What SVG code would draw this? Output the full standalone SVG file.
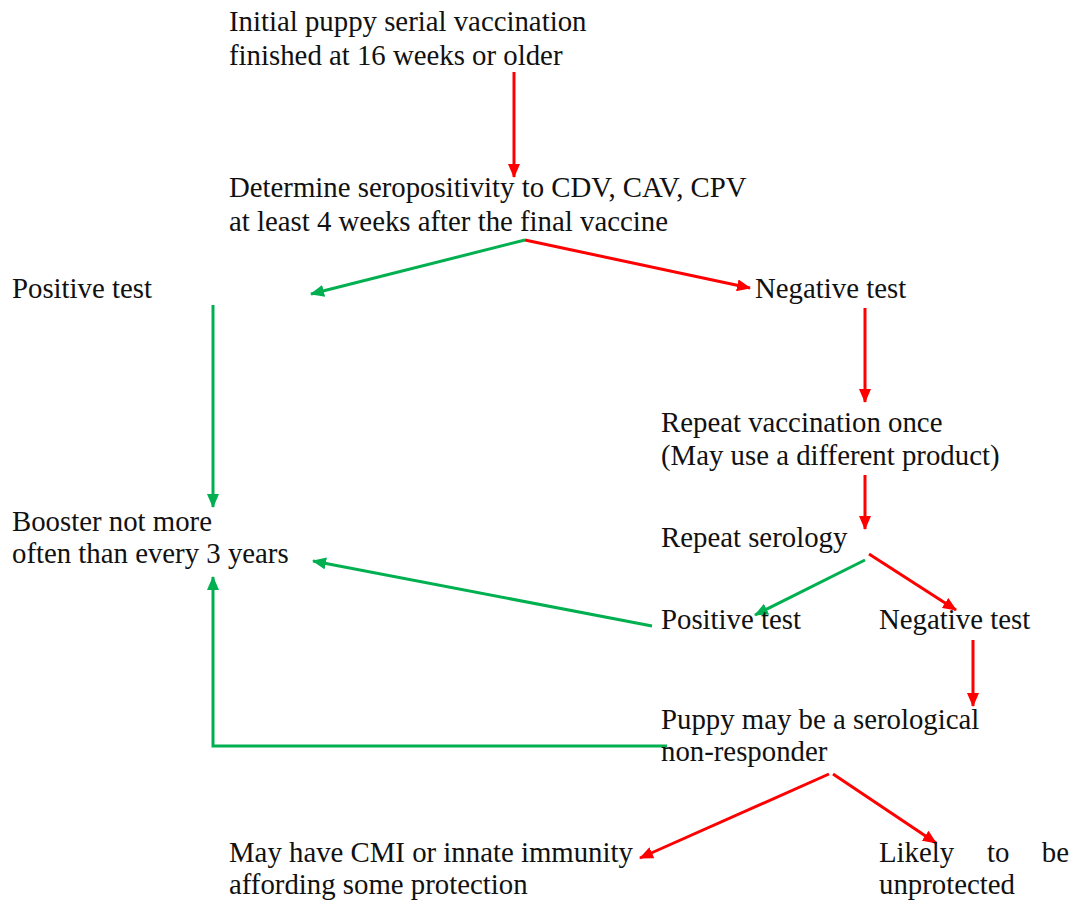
<svg xmlns="http://www.w3.org/2000/svg" width="1076" height="903" viewBox="0 0 1076 903">
<style>
text{font-family:"Liberation Serif","Times New Roman","DejaVu Serif",serif;font-size:28.8px;fill:#111}
.r{stroke:#FF0000;stroke-width:3;fill:none;marker-end:url(#ar)}
.g{stroke:#00B050;stroke-width:3;fill:none;marker-end:url(#ag)}
</style>
<defs>
<marker id="ar" viewBox="0 0 14 12" refX="13" refY="6" markerWidth="14" markerHeight="12" markerUnits="userSpaceOnUse" orient="auto"><path d="M0,0 L14,6 L0,12 Z" fill="#FF0000"/></marker>
<marker id="ag" viewBox="0 0 14 12" refX="13" refY="6" markerWidth="14" markerHeight="12" markerUnits="userSpaceOnUse" orient="auto"><path d="M0,0 L14,6 L0,12 Z" fill="#00B050"/></marker>
</defs>
<rect width="1076" height="903" fill="#fff"/>
<g id="connectors">
<line class="r" x1="514" y1="72" x2="514" y2="177"/>
<line class="g" x1="525" y1="240" x2="311" y2="294"/>
<line class="r" x1="525" y1="240" x2="750" y2="288"/>
<line class="g" x1="213" y1="305" x2="213" y2="507"/>
<line class="r" x1="865" y1="308" x2="865" y2="402"/>
<line class="r" x1="865" y1="475" x2="865" y2="529"/>
<line class="g" x1="865" y1="560" x2="755" y2="615"/>
<line class="r" x1="869" y1="554" x2="956" y2="610"/>
<line class="g" x1="652" y1="626" x2="313" y2="561"/>
<line class="r" x1="973" y1="640" x2="973" y2="706"/>
<polyline class="g" points="667,746 213,746 213,577"/>
<line class="r" x1="829" y1="774" x2="640" y2="858"/>
<line class="r" x1="833" y1="774" x2="936" y2="843"/>
</g>
<g id="n1"><text x="229" y="31">Initial puppy serial vaccination</text><text x="229" y="65">finished at 16 weeks or older</text></g>
<g id="n2"><text x="229" y="197">Determine seropositivity to CDV, CAV, CPV</text><text x="229" y="231">at least 4 weeks after the final vaccine</text></g>
<g id="n3"><text x="12" y="298">Positive test</text></g>
<g id="n4"><text x="755" y="298">Negative test</text></g>
<g id="n5"><text x="661" y="432">Repeat vaccination once</text><text x="661" y="465">(May use a different product)</text></g>
<g id="n6"><text x="661" y="547">Repeat serology</text></g>
<g id="n7"><text x="12" y="531">Booster not more</text><text x="12" y="563">often than every 3 years</text></g>
<g id="n8"><text x="661" y="629">Positive test</text></g>
<g id="n9"><text x="879" y="629">Negative test</text></g>
<g id="n10"><text x="661" y="729">Puppy may be a serological</text><text x="661" y="761">non-responder</text></g>
<g id="n11"><text x="229" y="862">May have CMI or innate immunity</text><text x="229" y="894">affording some protection</text></g>
<g id="n12"><text x="879" y="862">Likely</text><text x="987" y="862">to</text><text x="1069" y="862" text-anchor="end">be</text><text x="879" y="894">unprotected</text></g>
</svg>
